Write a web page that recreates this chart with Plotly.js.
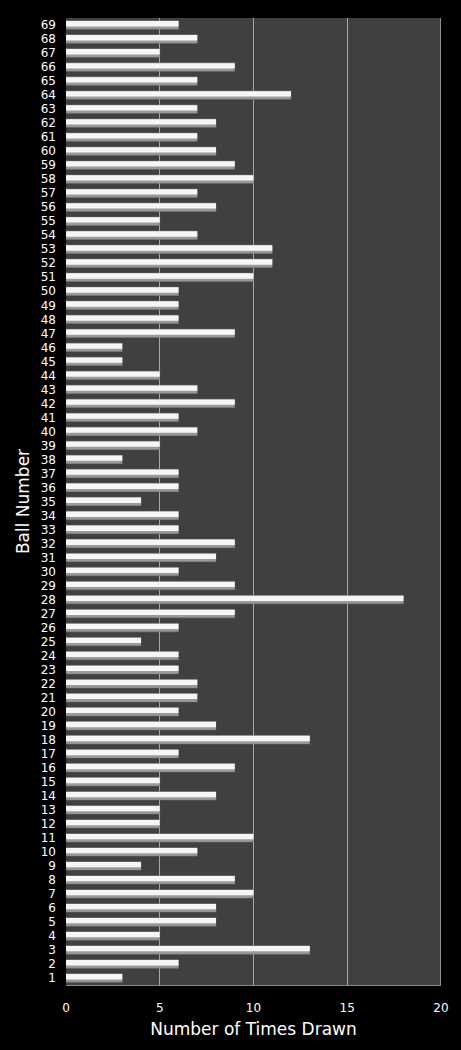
<!DOCTYPE html>
<html>
<head>
<meta charset="utf-8">
<script src="https://cdn.plot.ly/plotly-3.0.1.min.js"></script>
<style>
  html, body { margin: 0; padding: 0; background: #000; }
  #plot { width: 461px; height: 1050px; }
</style>
</head>
<body>
<div id="plot"></div>
<script>
// Ball numbers 1..69
var ballNumbers = [];
for (var i = 1; i <= 69; i++) ballNumbers.push(i);

// Times drawn, in ball order 1..69
var timesDrawn = [
  3, 6, 13, 5, 8, 8, 10, 9, 4, 7,
  10, 5, 5, 8, 5, 9, 6, 13, 8, 6,
  7, 7, 6, 6, 4, 6, 9, 18, 9, 6,
  8, 9, 6, 6, 4, 6, 6, 3, 5, 7,
  6, 9, 7, 5, 3, 3, 9, 6, 6, 6,
  10, 11, 11, 7, 5, 8, 7, 10, 9, 8,
  7, 8, 7, 12, 7, 9, 5, 7, 6
];

var xTicks = [0, 5, 10, 15, 20];

// Darker base of each bar
var shade = {
  type: "bar",
  orientation: "h",
  x: timesDrawn,
  y: ballNumbers,
  width: 0.6,
  offset: -0.3,
  marker: { color: "#9a9a9a", line: { color: "#7a7a7a", width: 0.5 } },
  hoverinfo: "skip"
};

// Lighter top half gives the rounded look
var shine = {
  type: "bar",
  orientation: "h",
  x: timesDrawn,
  y: ballNumbers,
  width: 0.38,
  offset: -0.1,
  marker: { color: "#f6f6f6", line: { width: 0 } },
  hovertemplate: "Ball %{y}: %{x}<extra></extra>"
};

var layout = {
  width: 461,
  height: 1050,
  paper_bgcolor: "#000000",
  plot_bgcolor: "#404040",
  showlegend: false,
  barmode: "overlay",
  margin: { l: 66, r: 20, t: 18, b: 65 },
  font: { family: "DejaVu Sans, Verdana, sans-serif", color: "#ffffff", size: 12 },
  xaxis: {
    range: [0, 20],
    tickvals: xTicks,
    showgrid: true,
    gridcolor: "#a8a8a8",
    gridwidth: 1,
    zeroline: false,
    showline: true,
    linecolor: "#8a8a8a",
    ticks: "",
    ticklabelstandoff: 12,
    tickfont: { size: 12, color: "#ffffff" },
    title: { text: "Number of Times Drawn", font: { size: 17, color: "#ffffff" }, standoff: 8 },
    fixedrange: true
  },
  yaxis: {
    range: [0.5, 69.5],
    tickmode: "linear",
    tick0: 1,
    dtick: 1,
    showgrid: false,
    zeroline: false,
    showline: false,
    ticks: "",
    ticklabelstandoff: 9,
    tickfont: { size: 12, color: "#ffffff" },
    title: { text: "Ball Number", font: { size: 17, color: "#ffffff" }, standoff: 6 },
    fixedrange: true
  },
  shapes: [
    { type: "line", xref: "x", yref: "paper", x0: 20, x1: 20, y0: 0, y1: 1,
      line: { color: "#a8a8a8", width: 1.5 } }
  ]
};

Plotly.newPlot("plot", [shade, shine], layout, { displayModeBar: false, staticPlot: true });
</script>
</body>
</html>
